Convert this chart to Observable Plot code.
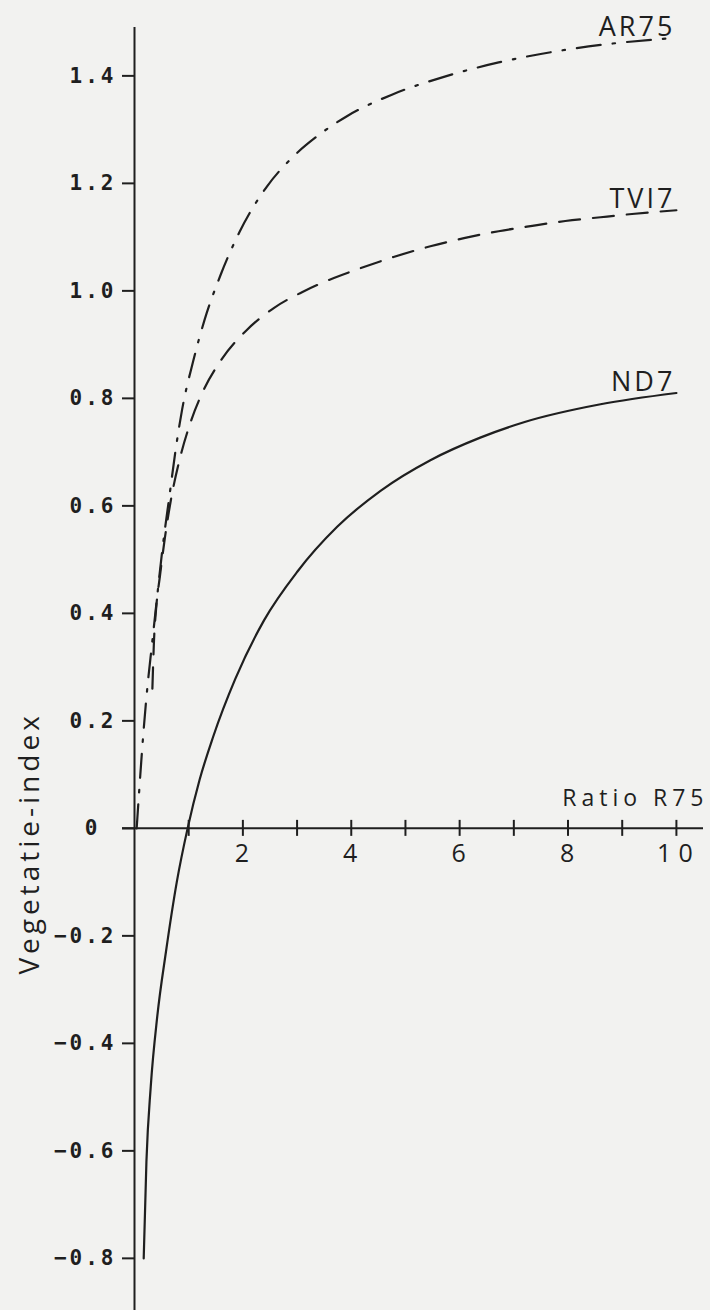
<!DOCTYPE html>
<html><head><meta charset="utf-8">
<script src="https://cdn.jsdelivr.net/npm/d3@7"></script>
<script src="https://cdn.jsdelivr.net/npm/@observablehq/plot@0.6"></script>
<style>
html,body{margin:0;padding:0;background:#f2f2f0;}
#chart svg{display:block;}
</style></head><body><div id="chart"></div>
<script>
// ---- data ----
const arRatio  = [0.04, 0.08, 0.17, 0.24, 0.32, 0.39, 0.51, 0.66, 0.76, 0.88, 1.08, 1.29, 1.59, 1.94, 2.45, 2.88, 3.4, 3.92, 4.75, 5.77, 6.72, 7.68, 8.72, 9.64, 10];
const arIndex  = [0.0, 0.06, 0.185, 0.265, 0.34, 0.405, 0.515, 0.63, 0.705, 0.78, 0.868, 0.945, 1.03, 1.11, 1.195, 1.245, 1.29, 1.325, 1.365, 1.400, 1.425, 1.444, 1.459, 1.468, 1.471];
const tviRatio = [0.33, 0.36, 0.40, 0.47, 0.56, 0.67, 0.83, 1.05, 1.25, 1.59, 2.05, 2.57, 3.1, 3.68, 4.11, 4.78, 5.46, 6.08, 6.72, 7.34, 7.95, 8.6, 9.18, 10];
const tviIndex = [0.26, 0.35, 0.41, 0.47, 0.54, 0.61, 0.685, 0.76, 0.81, 0.87, 0.925, 0.968, 0.998, 1.024, 1.04, 1.063, 1.083, 1.098, 1.111, 1.121, 1.13, 1.137, 1.143, 1.15];
const ndRatio  = [0.17, 0.22, 0.30, 0.42, 0.58, 0.78, 0.98, 1.2, 1.45, 1.86, 2.39, 3.0, 3.74, 4.54, 5.46, 6.38, 7.2, 8.6, 10];
const ndIndex  = [-0.80, -0.62, -0.48, -0.35, -0.23, -0.10, 0.0, 0.09, 0.17, 0.278, 0.387, 0.477, 0.561, 0.628, 0.685, 0.727, 0.756, 0.789, 0.81];

const seriesNames = ["AR75", "TVI7", "ND7"];
const xTickValues = [1, 2, 3, 4, 5, 6, 7, 8, 9, 10];
const xLabelValues = [2, 4, 6, 8, 10];
const xLabelTexts = ["2", "4", "6", "8", "10"];
const yTickValues = [1.4, 1.2, 1.0, 0.8, 0.6, 0.4, 0.2, 0, -0.2, -0.4, -0.6, -0.8];
const yTickTexts = ["1.4", "1.2", "1.0", "0.8", "0.6", "0.4", "0.2", "0", "\u22120.2", "\u22120.4", "\u22120.6", "\u22120.8"];
const xTitle = "Ratio R75";
const yTitle = "Vegetatie-index";

// ---- build tables ----
const toRows = (xs, ys, name) => xs.map((r, i) => ({ratio: r, index: ys[i], series: name}));
const ar = toRows(arRatio, arIndex, seriesNames[0]);
const tvi = toRows(tviRatio, tviIndex, seriesNames[1]);
const nd = toRows(ndRatio, ndIndex, seriesNames[2]);
const labelRows = [ar, tvi, nd].map(s => s[s.length - 1]);
const yTicks = yTickValues.map((v, i) => ({v, t: yTickTexts[i]}));
const xLabels = xLabelValues.map((v, i) => ({v, t: xLabelTexts[i]}));

const ink = "#1f1f1f";
const sans = "'Open Sans', 'DejaVu Sans', sans-serif";
const mono = "'DejaVu Sans Mono', 'Liberation Mono', monospace";

const chart = Plot.plot({
  width: 710, height: 1310,
  marginLeft: 134, marginRight: 7, marginTop: 27, marginBottom: 0,
  x: {domain: [0, 10.5], axis: null},
  y: {domain: [-0.897, 1.49], axis: null},
  style: {background: "#f2f2f0", color: ink, overflow: "visible"},
  marks: [
    // axes
    Plot.ruleX([0], {stroke: ink, strokeWidth: 2}),
    Plot.ruleY([0], {x1: 0, x2: 10.5, insetLeft: -12, stroke: ink, strokeWidth: 2}),
    Plot.ruleY(yTicks, {y: "v", x1: 0, x2: 0, insetLeft: -12, stroke: ink, strokeWidth: 2}),
    Plot.ruleX(xTickValues, {x: d => d, y1: 0, y2: 0, insetTop: -8, insetBottom: -8, stroke: ink, strokeWidth: 2}),
    Plot.text(yTicks.filter(d => d.v !== 0), {x: 0, y: "v", text: "t", textAnchor: "end", dx: -18, fontFamily: mono, fontSize: 21, fontWeight: "bold", fill: ink}),
    Plot.text(yTicks.filter(d => d.v === 0), {x: 0, y: "v", text: "t", textAnchor: "end", dx: -34, fontFamily: mono, fontSize: 21, fontWeight: "bold", fill: ink}),
    Plot.text(xLabels, {x: "v", y: 0, text: "t", lineAnchor: "top", dy: 16, dx: 2, fontFamily: sans, fontSize: 25, fill: ink}),
    Plot.text([xTitle], {x: 10.5, y: 0, text: d => d, textAnchor: "end", lineAnchor: "bottom", dy: -22, dx: 5, fontFamily: sans, fontSize: 23, fill: ink}),
    Plot.text([yTitle], {x: 0, y: -0.028, text: d => d, rotate: -90, textAnchor: "middle", lineAnchor: "bottom", dx: -96, fontFamily: sans, fontSize: 28, fill: ink}),
    // curves
    Plot.line(ar, {x: "ratio", y: "index", curve: "monotone-x", stroke: ink, strokeWidth: 2.2, strokeDasharray: "24,12,2.5,12"}),
    Plot.line(tvi, {x: "ratio", y: "index", curve: "monotone-x", stroke: ink, strokeWidth: 2.2, strokeDasharray: "21,13"}),
    Plot.line(nd, {x: "ratio", y: "index", curve: "monotone-x", stroke: ink, strokeWidth: 2.2}),
    // series labels
    Plot.text(labelRows, {x: "ratio", y: "index", text: "series", textAnchor: "end", lineAnchor: "bottom", dy: -2, dx: -1, fontFamily: sans, fontSize: 27, fill: ink})
  ]
});

// letter spacing (typewriter / lettering look)
const spacing = new Map();
yTickTexts.forEach(t => spacing.set(t, "3px"));
xLabelTexts.forEach(t => spacing.set(t, "6px"));
spacing.set("10", "7px");
spacing.set(xTitle, "5px");
spacing.set(yTitle, "4px");
seriesNames.forEach(t => spacing.set(t, "3px"));
d3.select(chart).selectAll("text").each(function () {
  const ls = spacing.get(this.textContent);
  if (ls) this.style.letterSpacing = ls;
});
document.getElementById("chart").appendChild(chart);
</script>
</body></html>
